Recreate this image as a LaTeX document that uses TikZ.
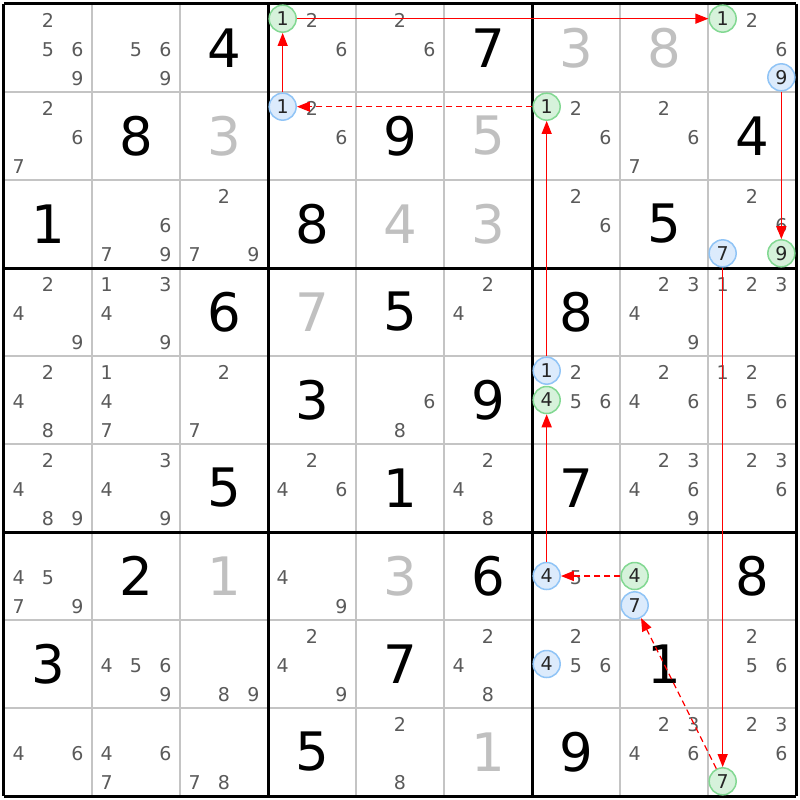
\documentclass[tikz,border=0pt]{standalone}
\usepackage{fontspec}
\setmainfont{DejaVu Sans}
\usetikzlibrary{arrows.meta}
\definecolor{candgrey}{HTML}{5A5A5A}
\definecolor{solvedgrey}{HTML}{C0C0C0}
\definecolor{cellgrey}{HTML}{C4C4C4}
\definecolor{bluefill}{HTML}{DCEBFC}
\definecolor{blueline}{HTML}{90C4F6}
\definecolor{greenfill}{HTML}{D6F2DB}
\definecolor{greenline}{HTML}{82D892}
\begin{document}
\begin{tikzpicture}[x=88pt,y=-88pt,% one unit = one cell, rows counted downwards
        given/.style={font=\fontsize{53}{53}\selectfont},
        solved/.style={font=\fontsize{53}{53}\selectfont,text=solvedgrey},
        cand/.style={font=\fontsize{19}{19}\selectfont,text=candgrey,yshift=-1.5pt},
        pmark/.style={circle,minimum size=27pt,inner sep=0pt,line width=1.5pt,font=\fontsize{19}{19}\selectfont,text=black!85},
        markblue/.style={pmark,draw=blueline,fill=bluefill},
        markgreen/.style={pmark,draw=greenline,fill=greenfill},
        cellline/.style={cellgrey,line width=1.5pt},
        boxline/.style={black,line width=3pt},
        stronglink/.style={red,line width=1.3pt,-{Triangle[length=13pt,width=10pt]}},
        weaklink/.style={stronglink,dash pattern=on 6pt off 4pt}]
\fill[white] (-4pt,4pt) rectangle (796pt,-796pt);
\useasboundingbox (-4pt,4pt) rectangle (796pt,-796pt);

% cell lines, then box lines
\foreach \i in {1,2,4,5,7,8}{
\draw[cellline] (\i,0) -- (\i,9);
\draw[cellline] (0,\i) -- (9,\i);
 }
\foreach \i in {0,3,6,9}{
\draw[boxline] (\i,0) -- (\i,9);
\draw[boxline] (0,\i) -- (9,\i);
 }

% givens row/col/digit
\foreach \r/\c/\d in {1/3/4,1/6/7,2/2/8,2/5/9,2/9/4,3/1/1,3/4/8,3/8/5,4/3/6,4/5/5,4/7/8,5/4/3,
        5/6/9,6/3/5,6/5/1,6/7/7,7/2/2,7/6/6,7/9/8,8/1/3,8/5/7,8/8/1,9/4/5,9/7/9}{
\node[given] (g\r\c) at (\c-0.5,\r-0.5) {\d};
 }
% solved cells
\foreach \r/\c/\d in {1/7/3,1/8/8,2/3/3,2/6/5,3/5/4,3/6/3,4/4/7,7/3/1,7/5/3,9/6/1}{
\node[solved] (s\r\c) at (\c-0.5,\r-0.5) {\d};
 }

% pencil marks, d sits in column mod(d-1,3) and row div(d-1,3) of its cell
\foreach \r/\c/\ds in {1/1/{2,5,6,9},1/2/{5,6,9},1/4/{2,6},1/5/{2,6},1/9/{2,6},
        2/1/{2,6,7},2/4/{2,6},2/7/{2,6},2/8/{2,6,7},
        3/2/{6,7,9},3/3/{2,7,9},3/7/{2,6},3/9/{2,6},
        4/1/{2,4,9},4/2/{1,3,4,9},4/6/{2,4},4/8/{2,3,4,9},4/9/{1,2,3},
        5/1/{2,4,8},5/2/{1,4,7},5/3/{2,7},5/5/{6,8},5/7/{2,5,6},5/8/{2,4,6},5/9/{1,2,5,6},
        6/1/{2,4,8,9},6/2/{3,4,9},6/4/{2,4,6},6/6/{2,4,8},6/8/{2,3,4,6,9},6/9/{2,3,6},
        7/1/{4,5,7,9},7/4/{4,9},7/7/{5},
        8/2/{4,5,6,9},8/3/{8,9},8/4/{2,4,9},8/6/{2,4,8},8/7/{2,5,6},8/9/{2,5,6},
        9/1/{4,6},9/2/{4,6,7},9/3/{7,8},9/5/{2,8},9/8/{2,3,4,6},9/9/{2,3,6}}{
\foreach \d in \ds{
\pgfmathtruncatemacro\k{mod(\d-1,3)}
\pgfmathtruncatemacro\j{div(\d-1,3)}
\node[cand] (p\r\c\d) at ({\c-1+(2*\k+1)/6},{\r-1+(2*\j+1)/6}) {\d};
 }
 }

% marked candidates of the chain
\foreach \r/\c/\d in {1/9/9,2/4/1,3/9/7,5/7/1,7/7/4,7/8/7,8/7/4}{
\pgfmathtruncatemacro\k{mod(\d-1,3)}
\pgfmathtruncatemacro\j{div(\d-1,3)}
\node[markblue] (p\r\c\d) at ({\c-1+(2*\k+1)/6},{\r-1+(2*\j+1)/6}) {\d};
 }
\foreach \r/\c/\d in {1/4/1,1/9/1,2/7/1,3/9/9,5/7/4,7/8/4,9/9/7}{
\pgfmathtruncatemacro\k{mod(\d-1,3)}
\pgfmathtruncatemacro\j{div(\d-1,3)}
\node[markgreen] (p\r\c\d) at ({\c-1+(2*\k+1)/6},{\r-1+(2*\j+1)/6}) {\d};
 }

% links
\draw[stronglink] (p241) -- (p141);
\draw[stronglink] (p141) -- (p191);
\draw[stronglink] (p199) -- (p399);
\draw[stronglink] (p397) -- (p997);
\draw[weaklink] (p997) -- (p787);
\draw[weaklink] (p784) -- (p774);
\draw[stronglink] (p774) -- (p574);
\draw[stronglink] (p571) -- (p271);
\draw[weaklink] (p271) -- (p241);

\end{tikzpicture}
\end{document}
